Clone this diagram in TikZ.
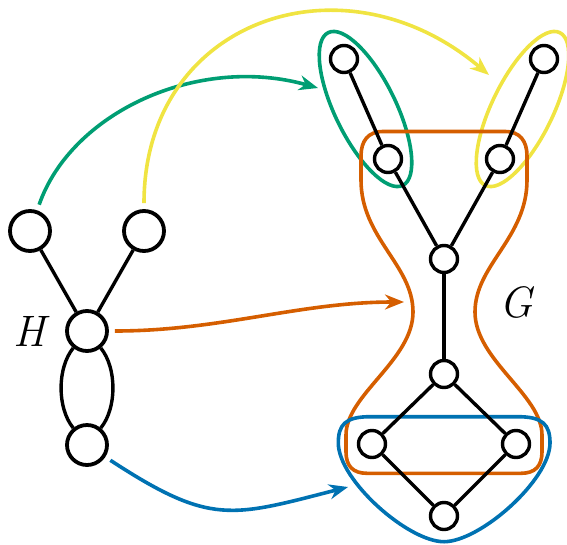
\documentclass[tikz,border=0pt]{standalone}
\usepackage{fontspec}
\usetikzlibrary{arrows.meta}
\definecolor{cgreen}{HTML}{009E73}
\definecolor{cyellow}{HTML}{F0E442}
\definecolor{corange}{HTML}{D55E00}
\definecolor{cblue}{HTML}{0072B2}
\begin{document}
\begin{tikzpicture}[x=1pt,y=-1pt,
  hnode/.style={circle,draw,fill=white,line width=3.8pt,minimum size=40pt,inner sep=0pt},
  gnode/.style={circle,draw,fill=white,line width=3.4pt,minimum size=27pt,inner sep=0pt},
  edge/.style={line width=3.4pt},
  blob/.style={line width=3.6pt},
  arr/.style={line width=3.6pt,shorten <=6pt,-{Stealth[length=19pt,width=15pt]}},
  lab/.style={inner sep=0pt,font=\fontsize{44}{44}\selectfont\itshape}]
\useasboundingbox (0,0) rectangle (567,544);

% colored groups
\draw[blob,cgreen,rotate around={-64:(365.5,109)}] (365.5,109) ellipse [x radius=85pt, y radius=30.5pt];
\draw[blob,cyellow,rotate around={64:(522.5,109)}] (522.5,109) ellipse [x radius=85pt, y radius=30.5pt];
\draw[blob,corange] (444,131.5) -- (505,131.5) .. controls (520,131.5) and (527,141) .. (527,156)
  -- (527,180) .. controls (527,238) and (475,265) .. (475,312)
  .. controls (475,360) and (542,395) .. (542,435) -- (542,452)
  .. controls (542,466) and (535,473.3) .. (521,473.3) -- (367,473.3)
  .. controls (353,473.3) and (346,466) .. (346,452) -- (346,435)
  .. controls (346,395) and (413,360) .. (413,312)
  .. controls (413,265) and (361,238) .. (361,180) -- (361,156)
  .. controls (361,141) and (368,131.5) .. (383,131.5) -- cycle;
\draw[blob,cblue] (444,416.7) -- (518,416.7) .. controls (543,416.7) and (550,425) .. (550,443)
  .. controls (550,480) and (480,541.7) .. (444,541.7)
  .. controls (408,541.7) and (338.3,480) .. (338.3,443)
  .. controls (338.3,425) and (345,416.7) .. (370,416.7) -- cycle;

% H
\node[hnode] (ha) at (30,231) {};
\node[hnode] (hb) at (144,231) {};
\node[hnode] (hc) at (87,331) {};
\node[hnode] (hd) at (87,445) {};
\node[lab] (hl) at (29.5,331) {H};
\draw[edge] (ha) -- (hc);
\draw[edge] (hb) -- (hc);
\draw[edge] (hc) .. controls (57,368) and (57,408) .. (hd);
\draw[edge] (hc) .. controls (117,368) and (117,408) .. (hd);

% G
\node[gnode] (g1) at (344,59) {};
\node[gnode] (g2) at (544,59) {};
\node[gnode] (g3) at (388,159) {};
\node[gnode] (g4) at (500,159) {};
\node[gnode] (g5) at (444,259) {};
\node[gnode] (g6) at (444,374) {};
\node[gnode] (g7) at (372,444) {};
\node[gnode] (g8) at (516,444) {};
\node[gnode] (g9) at (444,516) {};
\node[lab] (gl) at (516,302.5) {G};
\draw[edge] (g1) -- (g3);
\draw[edge] (g2) -- (g4);
\draw[edge] (g3) -- (g5);
\draw[edge] (g4) -- (g5);
\draw[edge] (g5) -- (g6);
\draw[edge] (g6) -- (g7);
\draw[edge] (g6) -- (g8);
\draw[edge] (g7) -- (g9);
\draw[edge] (g8) -- (g9);

% arrows
\coordinate (tg) at (318,88);
\coordinate (ty) at (489,75);
\coordinate (to) at (404,302);
\coordinate (tb) at (348,487);
\draw[arr,cgreen] (ha) .. controls (71,113) and (197,54) .. (tg);
\draw[arr,cyellow] (hb) .. controls (144,20) and (343,-49) .. (ty);
\draw[arr,corange] (hc) .. controls (220,331) and (300,302) .. (to);
\draw[arr,cblue] (hd) .. controls (211,526) and (231,517) .. (tb);
\end{tikzpicture}
\end{document}
